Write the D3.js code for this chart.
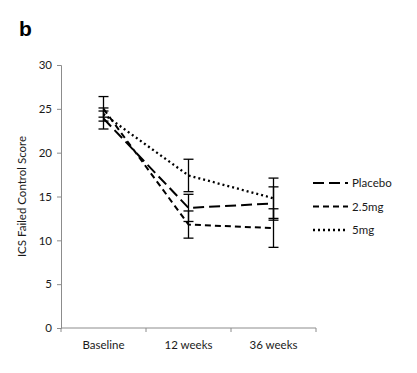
<!DOCTYPE html>
<html>
<head>
<meta charset="utf-8">
<script src="https://cdn.jsdelivr.net/npm/d3@7"></script>
<style>
  body { margin: 0; background: #fff; }
  text { font-family: Lato, "Open Sans", sans-serif; }
</style>
</head>
<body>
<div id="chart"></div>
<script>
// --- Data ---
const timepoints = ["Baseline", "12 weeks", "36 weeks"];
const seriesNames = ["Placebo", "2.5mg", "5mg"];
const placeboMean = [23.9, 13.7, 14.2];
const placeboErr = [1.2, 1.55, 1.9];
const mg25Mean = [25.0, 11.8, 11.4];
const mg25Err = [1.4, 1.55, 2.2];
const mg5Mean = [24.4, 17.4, 14.8];
const mg5Err = [0.35, 1.85, 2.3];
const yTicks = [0, 5, 10, 15, 20, 25, 30];

const series = [
    { name: seriesNames[0], mean: placeboMean, err: placeboErr, dash: "11,5", cap: "butt", w: 2 },
    { name: seriesNames[1], mean: mg25Mean, err: mg25Err, dash: "6,4", cap: "butt", w: 2 },
    { name: seriesNames[2], mean: mg5Mean, err: mg5Err, dash: "2,3", cap: "butt", w: 2.3 }
];

// --- Rendering ---
const width = 417, height = 373;
const margin = { top: 65, right: 101, bottom: 45, left: 61 };

const svg = d3.select("#chart")
    .append("svg")
    .attr("width", width)
    .attr("height", height);

const x = d3.scaleBand()
    .domain(timepoints)
    .range([margin.left, width - margin.right]);

const y = d3.scaleLinear()
    .domain([0, 30])
    .range([height - margin.bottom, margin.top]);

const cx = d => x(d) + x.bandwidth() / 2;

// Panel letter
svg.append("text")
    .attr("x", 19)
    .attr("y", 36)
    .style("font-size", "21px")
    .style("font-weight", "bold")
    .style("font-family", "'Liberation Sans', Arial, sans-serif")
    .text("b");

// y axis
const yAxis = svg.append("g")
    .attr("transform", `translate(${margin.left},0)`)
    .call(d3.axisLeft(y).tickValues(yTicks).tickSize(4).tickPadding(5));
yAxis.select(".domain").attr("stroke", "#8c8c8c");
yAxis.selectAll(".tick line").attr("stroke", "#8c8c8c");
yAxis.selectAll("text").style("font-size", "11.5px").attr("fill", "#1a1a1a");

// x axis with ticks at band boundaries
const xAxisG = svg.append("g")
    .attr("transform", `translate(0,${height - margin.bottom})`);
xAxisG.append("line")
    .attr("x1", margin.left).attr("x2", width - margin.right)
    .attr("stroke", "#8c8c8c");
const bounds = timepoints.map(d => x(d) + x.bandwidth()).concat([margin.left]);
xAxisG.selectAll(".btick")
    .data(bounds)
    .enter().append("line")
    .attr("x1", d => d).attr("x2", d => d)
    .attr("y1", 0).attr("y2", 4)
    .attr("stroke", "#8c8c8c");
xAxisG.selectAll(".xlab")
    .data(timepoints)
    .enter().append("text")
    .attr("x", d => cx(d))
    .attr("y", 21)
    .attr("text-anchor", "middle")
    .style("font-size", "11.5px")
    .attr("fill", "#1a1a1a")
    .text(d => d);

// y axis title
svg.append("text")
    .attr("transform", `translate(26,${(y(0) + y(30)) / 2}) rotate(-90)`)
    .attr("text-anchor", "middle")
    .style("font-size", "11.5px")
    .attr("fill", "#1a1a1a")
    .text("ICS Failed Control Score");

// Error bars
series.forEach(s => {
    const g = svg.append("g");
    timepoints.forEach((t, i) => {
        const hi = s.mean[i] + s.err[i], lo = s.mean[i] - s.err[i];
        g.append("line")
            .attr("x1", cx(t)).attr("x2", cx(t))
            .attr("y1", y(hi)).attr("y2", y(lo))
            .attr("stroke", "#000").attr("stroke-width", 1.3);
        [hi, lo].forEach(v => {
            g.append("line")
                .attr("x1", cx(t) - 5).attr("x2", cx(t) + 5)
                .attr("y1", y(v)).attr("y2", y(v))
                .attr("stroke", "#000").attr("stroke-width", 1.3);
        });
    });
});

// Lines
const line = d3.line()
    .x((d, i) => cx(timepoints[i]))
    .y(d => y(d));

series.forEach(s => {
    svg.append("path")
        .datum(s.mean)
        .attr("fill", "none")
        .attr("stroke", "#000")
        .attr("stroke-width", s.w)
        .attr("stroke-linecap", s.cap)
        .attr("stroke-dasharray", s.dash)
        .attr("d", line);
});

// Legend
const legend = svg.append("g")
    .attr("transform", `translate(313,183)`);
series.forEach((s, i) => {
    const g = legend.append("g").attr("transform", `translate(0,${i * 23.5})`);
    g.append("line")
        .attr("x1", 0).attr("x2", 35)
        .attr("stroke", "#000").attr("stroke-width", s.w)
        .attr("stroke-linecap", s.cap)
        .attr("stroke-dasharray", s.dash);
    g.append("text")
        .attr("x", 39).attr("y", 4)
        .style("font-size", "11.5px")
        .attr("fill", "#1a1a1a")
        .text(s.name);
});
</script>
</body>
</html>
